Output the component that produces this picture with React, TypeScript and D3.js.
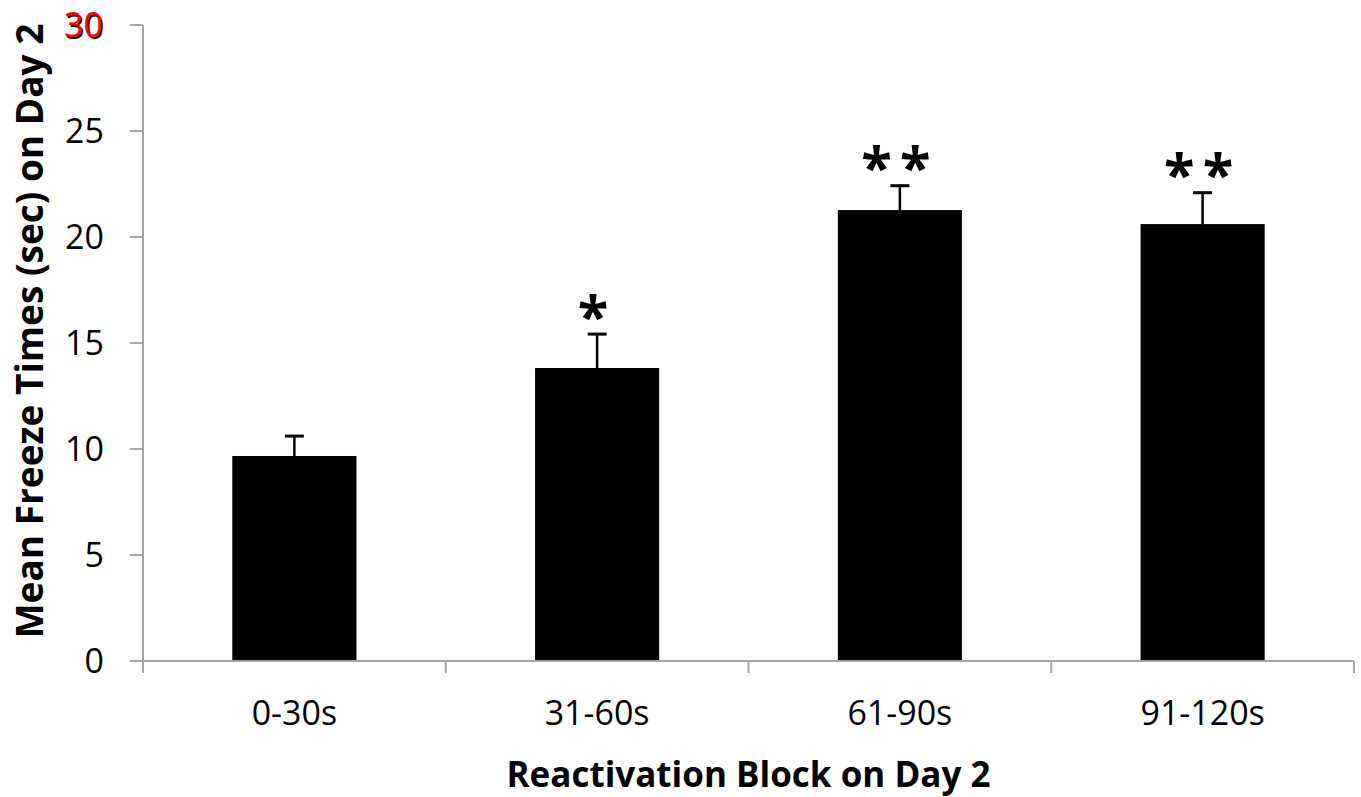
import * as d3 from "d3";

// reactivation blocks, mean freeze time and SEM
const blocks = ["0-30s", "31-60s", "61-90s", "91-120s"];
const means = [9.67, 13.82, 21.27, 20.61];
const errs = [0.94, 1.6, 1.15, 1.48];
const stars = ["", "*", "**", "**"];
const yTicks = [0, 5, 10, 15, 20, 25, 30];

const W = 1361;
const H = 797;
const m = { left: 143, right: 1354, top: 25, bottom: 661 };
const font = "'Open Sans', 'DejaVu Sans', sans-serif";
const axisGrey = "#a6a6a6";

export default function App() {
  const x = d3.scaleBand().domain(blocks).range([m.left, m.right]).paddingInner(0).paddingOuter(0);
  const y = d3.scaleLinear().domain([0, 30]).range([m.bottom, m.top]);
  const bw = x.bandwidth() * 0.41;

  return (
    <svg width={W} height={H} style={{ position: "absolute", left: 0, top: 0, background: "#fff" }} fontFamily={font}>
      {/* y axis */}
      <line x1={m.left} x2={m.left} y1={y(30)} y2={y(0)} stroke={axisGrey} strokeWidth={2} />
      {yTicks.map((t) => (
        <g key={t}>
          <line x1={m.left - 13} x2={m.left} y1={y(t)} y2={y(t)} stroke={axisGrey} strokeWidth={2} />
          {t === 30 ? (
            <>
              <text x={104.5} y={y(t) + 1.5} dy="0.36em" textAnchor="end" fontSize={34} fill="#000">{t}</text>
              <text x={103} y={y(t)} dy="0.36em" textAnchor="end" fontSize={34} fill="#ff0000">{t}</text>
            </>
          ) : (
            <text x={104} y={y(t)} dy="0.36em" textAnchor="end" fontSize={34} fill="#000">{t}</text>
          )}
        </g>
      ))}

      {/* bars */}
      {blocks.map((b, i) => {
        const cx = x(b)! + x.bandwidth() / 2;
        const top = y(means[i] + errs[i]);
        return (
          <g key={b}>
            <rect x={cx - bw / 2} y={y(means[i])} width={bw} height={y(0) - y(means[i])} fill="#000" />
            <line x1={cx} x2={cx} y1={y(means[i])} y2={top} stroke="#000" strokeWidth={2.5} />
            <line x1={cx - 9.5} x2={cx + 9.5} y1={top} y2={top} stroke="#000" strokeWidth={3} />
            {stars[i] && (
              <text x={cx} y={top - 33} dy="0.62em" textAnchor="middle" fontSize={56} fontWeight="bold" letterSpacing={8} fill="#000">
                {stars[i]}
              </text>
            )}
          </g>
        );
      })}

      {/* x axis */}
      <line x1={m.left} x2={m.right} y1={y(0)} y2={y(0)} stroke={axisGrey} strokeWidth={2} />
      {[...blocks.map((b) => x(b)!), m.right].map((v, i) => (
        <line key={i} x1={v} x2={v} y1={y(0)} y2={y(0) + 12} stroke={axisGrey} strokeWidth={2} />
      ))}
      {blocks.map((b) => (
        <text key={b} x={x(b)! + x.bandwidth() / 2} y={725} textAnchor="middle" fontSize={34} fill="#000">{b}</text>
      ))}

      {/* axis titles */}
      <text x={(m.left + m.right) / 2} y={787} textAnchor="middle" fontSize={35} fontWeight="bold" fill="#000">
        Reactivation Block on Day 2
      </text>
      <text transform={`translate(43,331) rotate(-90)`} textAnchor="middle" fontSize={37} fontWeight="bold" fill="#000">
        Mean Freeze Times (sec) on Day 2
      </text>
    </svg>
  );
}
